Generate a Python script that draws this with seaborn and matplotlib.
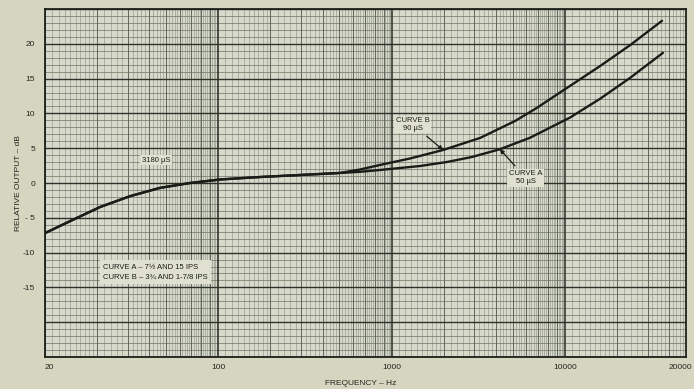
import numpy as np
import pandas as pd
import matplotlib
matplotlib.use("Agg")
import matplotlib.pyplot as plt
import matplotlib.transforms as mtransforms
import seaborn as sns

# ---------------- data ----------------
freq_common = [10, 13.9, 20.8, 30.9, 46.1, 68.7, 102, 174, 296, 503]
db_common = [-7.2, -5.5, -3.45, -1.9, -0.7, 0.0, 0.5, 0.86, 1.15, 1.44]

freq_b = [658, 857, 1277, 1981, 3238, 5152, 6900, 9372, 15960, 23770, 36340]
db_b = [1.94, 2.59, 3.52, 4.74, 6.47, 8.9, 10.8, 13.0, 16.8, 19.8, 23.3]

freq_a = [658, 857, 1459, 2089, 2911, 4217, 6290, 10700, 15960, 23770, 36800]
db_a = [1.61, 1.87, 2.44, 3.02, 3.74, 4.85, 6.5, 9.4, 12.1, 15.1, 18.7]

x_ticks = [10, 100, 1000, 10000, 50000]
x_tick_labels = ["20", "100", "1000", "10000", "20000"]
y_ticks = [20, 15, 10, 5, 0, -5, -10, -15]
y_tick_labels = ["20", "15", "10", "5", "0", "- 5", "-10", "-15"]

# ---------------- style ----------------
sns.set_style("white")
FONT = ["Liberation Sans Narrow", "Liberation Sans", "DejaVu Sans"]
plt.rcParams["font.family"] = FONT

fig_bg = "#d6d5bf"
paper = "#d7dacb"
ink = "#1a1c18"
txt = "#24241f"

fig = plt.figure(figsize=(6.94, 3.89), dpi=100, facecolor=fig_bg)
ax = fig.add_axes([45 / 694, 1 - 357 / 389, 641 / 694, 348 / 389])
ax.set_facecolor(paper)
ax.set_xscale("log")
ax.set_xlim(10, 50000)
ax.set_ylim(-25, 25)

# ---------------- graph-paper grid ----------------
subs = list(np.arange(1.1, 2.0, 0.1)) + list(np.arange(2.2, 5.0, 0.2)) + list(np.arange(5.2, 10.0, 0.2))
for dec in [10, 100, 1000, 10000]:
    for s in subs:
        v = s * dec
        if v < 50000 and abs(s - round(s)) > 1e-6:
            ax.axvline(v, color="#8a8f82", lw=0.4, zorder=1)
    for k in range(2, 10):
        if k * dec < 50000:
            ax.axvline(k * dec, color="#5a6055", lw=0.65, zorder=1.2)
    ax.axvline(dec, color="#2a2d27", lw=1.1, zorder=1.4)
for yv in range(-25, 26):
    if yv % 5 == 0:
        ax.axhline(yv, color="#2e312b", lw=1.0, zorder=1.4)
    else:
        ax.axhline(yv, color="#6e7367", lw=0.5, zorder=1)

# ---------------- curves ----------------
df = pd.concat([
    pd.DataFrame({"freq": freq_common + freq_a, "db": db_common + db_a, "curve": "A"}),
    pd.DataFrame({"freq": freq_common + freq_b, "db": db_common + db_b, "curve": "B"}),
])
sns.lineplot(data=df, x="freq", y="db", units="curve", estimator=None, sort=False,
             color=ink, lw=1.7, ax=ax, zorder=5, legend=False)

# ---------------- axes ----------------
ax.set_xticks(x_ticks)
ax.set_xticklabels(x_tick_labels)
ax.set_xticks([], minor=True)
ax.set_yticks(y_ticks)
ax.set_yticklabels(y_tick_labels)
ax.tick_params(axis="both", length=0, labelsize=6, colors=txt)
ax.tick_params(axis="x", pad=5)
ax.tick_params(axis="y", pad=7)
xl = ax.get_xticklabels()
xl[0].set_transform(xl[0].get_transform() + mtransforms.ScaledTranslation(4 / 100, 0, fig.dpi_scale_trans))
xl[-1].set_transform(xl[-1].get_transform() + mtransforms.ScaledTranslation(-6 / 100, 0, fig.dpi_scale_trans))
for sp in ax.spines.values():
    sp.set_color("#1e201c")
    sp.set_linewidth(1.3)
    sp.set_zorder(6)
ax.set_xlabel("FREQUENCY – Hz", fontsize=6, color=txt, labelpad=3)
ax.set_ylabel("RELATIVE OUTPUT – dB", fontsize=6, color=txt, labelpad=2)
ax.yaxis.set_label_coords(-0.036, 0.5)
ax.xaxis.set_label_coords(0.492, -0.065)

# ---------------- annotations ----------------
box = dict(boxstyle="square,pad=0.2", fc="#dfe0cf", ec="none")
ax.text(0.173, 0.566, "3180 µS", transform=ax.transAxes, fontsize=5.5, ha="center",
        va="center", color=ink, bbox=box, zorder=7)

ib = freq_b.index(1981)
ax.annotate("CURVE B\n90 µS", xy=(freq_b[ib], db_b[ib]), xycoords="data",
            xytext=(0.574, 0.668), textcoords="axes fraction", fontsize=5.5,
            ha="center", va="center", color=ink, bbox=box, linespacing=1.15,
            arrowprops=dict(arrowstyle="-|>", color=ink, lw=0.9, mutation_scale=6,
                            shrinkA=3, shrinkB=0), zorder=7)

ia = freq_a.index(4217)
ax.annotate("CURVE A\n50 µS", xy=(freq_a[ia], db_a[ia]), xycoords="data",
            xytext=(0.750, 0.515), textcoords="axes fraction", fontsize=5.5,
            ha="center", va="center", color=ink, bbox=box, linespacing=1.15,
            arrowprops=dict(arrowstyle="-|>", color=ink, lw=0.9, mutation_scale=6,
                            shrinkA=3, shrinkB=0), zorder=7)

ax.text(0.0905, 0.243, "CURVE A – 7½ AND 15 IPS\nCURVE B – 3¾ AND 1-7/8 IPS",
        transform=ax.transAxes, fontsize=5.5, ha="left", va="center", color=ink,
        linespacing=1.6, bbox=dict(boxstyle="square,pad=0.45", fc="#dfe0cf", ec="none"),
        zorder=7)

fig.savefig("out.png", dpi=100, facecolor=fig_bg)
